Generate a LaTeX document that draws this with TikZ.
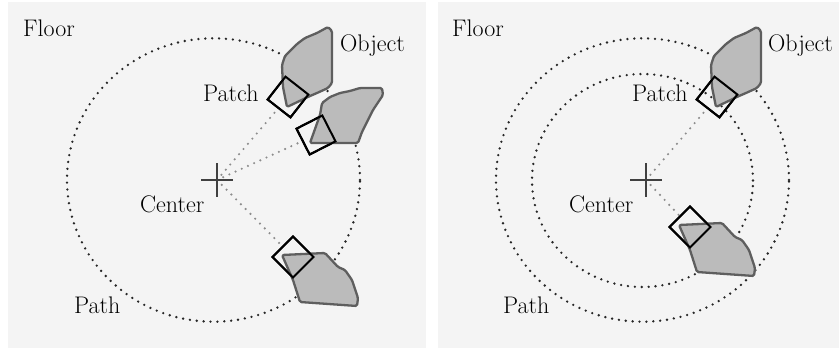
\documentclass[tikz,border=0pt]{standalone}
\usepackage{fontspec}
\definecolor{panelbg}{HTML}{F4F4F4}
\definecolor{objfill}{HTML}{BBBBBB}
\definecolor{objline}{HTML}{5E5E5E}
\begin{document}
\begin{tikzpicture}[x=1pt,y=-1pt,
  bg/.style={fill=panelbg,draw=none},
  pathring/.style={draw=black!85, line width=2.6pt, line cap=round, dash pattern=on 0pt off 6.9pt},
  ray/.style={draw=black!45, line width=2.4pt, line cap=round, dash pattern=on 0pt off 6.8pt},
  object/.style={fill=objfill, draw=objline, line width=2.3pt, line join=round, rounded corners=1.5pt},
  patchbox/.style={draw=black, line width=2pt, minimum size=29pt, inner sep=0pt, rectangle},
  crossline/.style={draw=black!75, line width=1.7pt},
  lbl/.style={inner sep=0pt, anchor=base west, font=\fontsize{24}{28}\selectfont}
]
\useasboundingbox (0,0) rectangle (839,350);
% panels
\fill[bg] (8,2.5) rectangle (426,348);
\fill[bg] (438,2.5) rectangle (839,348);

% ---------------- left panel ----------------
\coordinate (cL) at (217,180);
\draw[pathring] (213.5,180) ellipse [x radius=146.5pt, y radius=141.7pt];

\node[patchbox, rotate=52] (pLU) at (288,97) {};
\node[patchbox, rotate=27] (pLM) at (316,135) {};
\node[patchbox, rotate=45] (pLL) at (293,257) {};

\draw[ray] (cL) -- (pLU);
\draw[ray] (cL) -- (pLM);
\draw[ray] (cL) -- (pLL);

% upper object
\draw[object] (282,65) -- (285,56) -- (290,51) -- (297,44) -- (305,38) -- (317,33) -- (328,27) -- (332,31)
  -- (332,67) -- (332,83) -- (328,88) -- (317,93) -- (310,96) -- (287,107) -- (283,87) -- cycle;
% middle object
\draw[object] (322,103) -- (330,97) -- (340,93) -- (350,91) -- (360,88) -- (382,88) -- (383,95)
  -- (373,110) -- (362,132) -- (358,143) -- (310,143) -- (320,115) -- cycle;
% lower object
\draw[object] (282,255) -- (325,253) -- (338,267) -- (345,270) -- (352,280) -- (358,298)
  -- (357,306) -- (300,302) -- (293,280) -- cycle;

\node[patchbox, rotate=52] at (pLU) {};
\node[patchbox, rotate=27] at (pLM) {};
\node[patchbox, rotate=45] at (pLL) {};

\draw[crossline] ([xshift=-16pt]cL) -- ([xshift=16pt]cL);
\draw[crossline] ([yshift=-17pt]cL) -- ([yshift=17pt]cL);

\node[lbl] (floorL) at (23,37) {Floor};
\node[lbl] (objL) at (340,52) {Object};
\node[lbl] (patchL) at (203,102) {Patch};
\node[lbl] (centerL) at (140,213) {Center};
\node[lbl] (pathL) at (74,313) {Path};

% ---------------- right panel ----------------
\coordinate (cR) at (646,180);
\draw[pathring] (642.5,180) ellipse [x radius=146.5pt, y radius=141.7pt];
\draw[pathring] (642.5,180.5) ellipse [x radius=110.5pt, y radius=106.5pt];

\node[patchbox, rotate=52] (pRU) at (717,97) {};
\node[patchbox, rotate=45] (pRL) at (690,227) {};

\draw[ray] (cR) -- (pRU);
\draw[ray] (cR) -- (pRL);

\begin{scope}[shift={(429,0)}]
\draw[object] (282,65) -- (285,56) -- (290,51) -- (297,44) -- (305,38) -- (317,33) -- (328,27) -- (332,31)
  -- (332,67) -- (332,83) -- (328,88) -- (317,93) -- (310,96) -- (287,107) -- (283,87) -- cycle;
\end{scope}
\begin{scope}[shift={(397,-30)}]
\draw[object] (282,255) -- (325,253) -- (338,267) -- (345,270) -- (352,280) -- (358,298)
  -- (357,306) -- (300,302) -- (293,280) -- cycle;
\end{scope}

\node[patchbox, rotate=52] at (pRU) {};
\node[patchbox, rotate=45] at (pRL) {};

\draw[crossline] ([xshift=-16pt]cR) -- ([xshift=16pt]cR);
\draw[crossline] ([yshift=-17pt]cR) -- ([yshift=17pt]cR);

\node[lbl] (floorR) at (452,37) {Floor};
\node[lbl] (objR) at (768,52) {Object};
\node[lbl] (patchR) at (632,102) {Patch};
\node[lbl] (centerR) at (569,213) {Center};
\node[lbl] (pathR) at (503,313) {Path};
\end{tikzpicture}
\end{document}
